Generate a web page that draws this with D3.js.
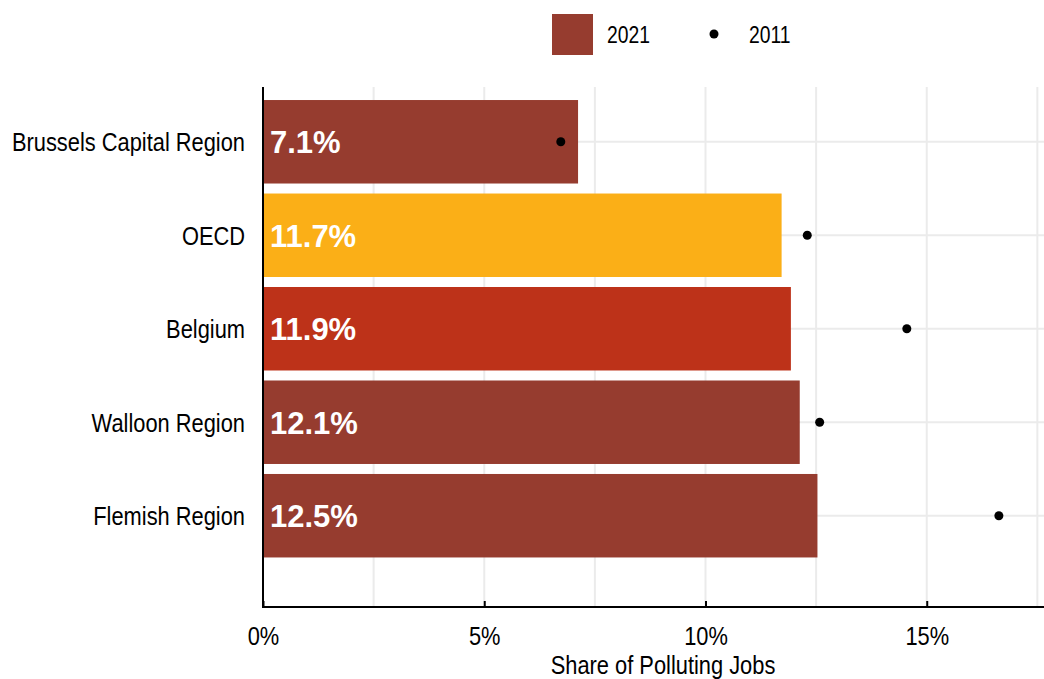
<!DOCTYPE html>
<html><head><meta charset="utf-8">
<script src="https://cdn.jsdelivr.net/npm/d3@7"></script>
<style>
html,body{margin:0;padding:0;background:#fff;}
svg{display:block;}
</style>
</head><body>
<svg id="chart" width="1044" height="679"></svg>
<script>
const categories = ["Brussels Capital Region","OECD","Belgium","Walloon Region","Flemish Region"];
const values2021 = [7.12, 11.72, 11.93, 12.13, 12.53];
const values2011 = [6.73, 12.3, 14.55, 12.58, 16.63];
const barColors = ["#963c2f","#fbaf17","#bd3219","#963c2f","#963c2f"];
const xTicks = [0, 5, 10, 15];
const gridTicks = [2.5, 5, 7.5, 10, 12.5, 15, 17.5];
const legendLabels = ["2021","2011"];
const xTitle = "Share of Polluting Jobs";

(function(){
const svg = d3.select("#chart");
const pLeft = 263, pRight = 1044, pTop = 87, pBottom = 607;
const x = d3.scaleLinear().domain([0, 17.65]).range([pLeft, pRight]);
const y = d3.scaleBand().domain(categories).range([pTop, pBottom + 1])
  .paddingInner(0.107).paddingOuter(0.34).align(0.205);

const font = '"Liberation Sans", Arial, sans-serif';
const narrow = 0.84;
function condense(sel) {
  sel.each(function() {
    const w = this.getComputedTextLength();
    this.setAttribute("textLength", (w * narrow).toFixed(2));
    this.setAttribute("lengthAdjust", "spacingAndGlyphs");
  });
}

// grid
const g = svg.append("g");
g.selectAll("line.v").data(gridTicks).join("line").attr("class","v")
  .attr("x1", d => x(d)).attr("x2", d => x(d))
  .attr("y1", pTop).attr("y2", pBottom)
  .attr("stroke", "#ebebeb").attr("stroke-width", 2);
g.selectAll("line.h").data(categories).join("line").attr("class","h")
  .attr("x1", pLeft).attr("x2", pRight)
  .attr("y1", d => y(d) + y.bandwidth()/2).attr("y2", d => y(d) + y.bandwidth()/2)
  .attr("stroke", "#ebebeb").attr("stroke-width", 2);

// bars
svg.append("g").selectAll("rect").data(categories).join("rect")
  .attr("x", x(0)).attr("y", d => y(d))
  .attr("width", (d,i) => x(values2021[i]) - x(0))
  .attr("height", y.bandwidth())
  .attr("fill", (d,i) => barColors[i]);

// value labels
svg.append("g").selectAll("text").data(categories).join("text")
  .attr("x", x(0) + 7).attr("y", d => y(d) + y.bandwidth()/2)
  .attr("dy", "0.37em")
  .attr("fill", "#fff")
  .style("font-family", font)
  .style("font-weight", "bold").style("font-size", "31px")
  .text((d,i) => values2021[i].toFixed(1) + "%");

// dots
svg.append("g").selectAll("circle").data(categories).join("circle")
  .attr("cx", (d,i) => x(values2011[i]))
  .attr("cy", d => y(d) + y.bandwidth()/2)
  .attr("r", 4.5).attr("fill", "#000");

// x axis
const xAxis = d3.axisBottom(x).tickValues(xTicks).tickSize(-6).tickSizeOuter(0).tickPadding(19.5)
  .tickFormat(d => d + "%");
const xa = svg.append("g").attr("transform", `translate(0,${pBottom})`).call(xAxis);
xa.select(".domain").remove();
xa.selectAll(".tick line").attr("stroke", "#000").attr("stroke-width", 2);
xa.selectAll(".tick text").attr("fill", "#000").style("font-family", font).style("font-size", "26px").call(condense);
svg.append("line").attr("x1", pLeft - 1).attr("x2", pRight).attr("y1", pBottom).attr("y2", pBottom)
  .attr("stroke", "#000").attr("stroke-width", 2);

// y axis
const yAxis = d3.axisLeft(y).tickSize(0).tickPadding(18);
const ya = svg.append("g").attr("transform", `translate(${pLeft},0)`).call(yAxis);
ya.select(".domain").remove();
ya.selectAll(".tick text").attr("fill", "#000").attr("dy", "0.37em")
  .style("font-family", font).style("font-size", "26px").call(condense);
svg.append("line").attr("x1", pLeft).attr("x2", pLeft).attr("y1", pTop).attr("y2", pBottom + 1)
  .attr("stroke", "#000").attr("stroke-width", 2);

// x title
svg.append("text").attr("x", 663).attr("y", 673.5).attr("text-anchor", "middle")
  .style("font-family", font).style("font-size", "26px").attr("fill", "#000").text(xTitle).call(condense);

// legend
const lg = svg.append("g");
lg.append("rect").attr("x", 552).attr("y", 14).attr("width", 41).attr("height", 41).attr("fill", "#963c2f");
lg.append("text").attr("x", 607).attr("y", 42.5).style("font-family", font).style("font-size", "23px").text(legendLabels[0]).call(condense);
lg.append("circle").attr("cx", 714).attr("cy", 34).attr("r", 4.5).attr("fill", "#000");
lg.append("text").attr("x", 749).attr("y", 42.5).style("font-family", font).style("font-size", "23px").text(legendLabels[1]).call(condense);
})();
</script>
</body></html>
